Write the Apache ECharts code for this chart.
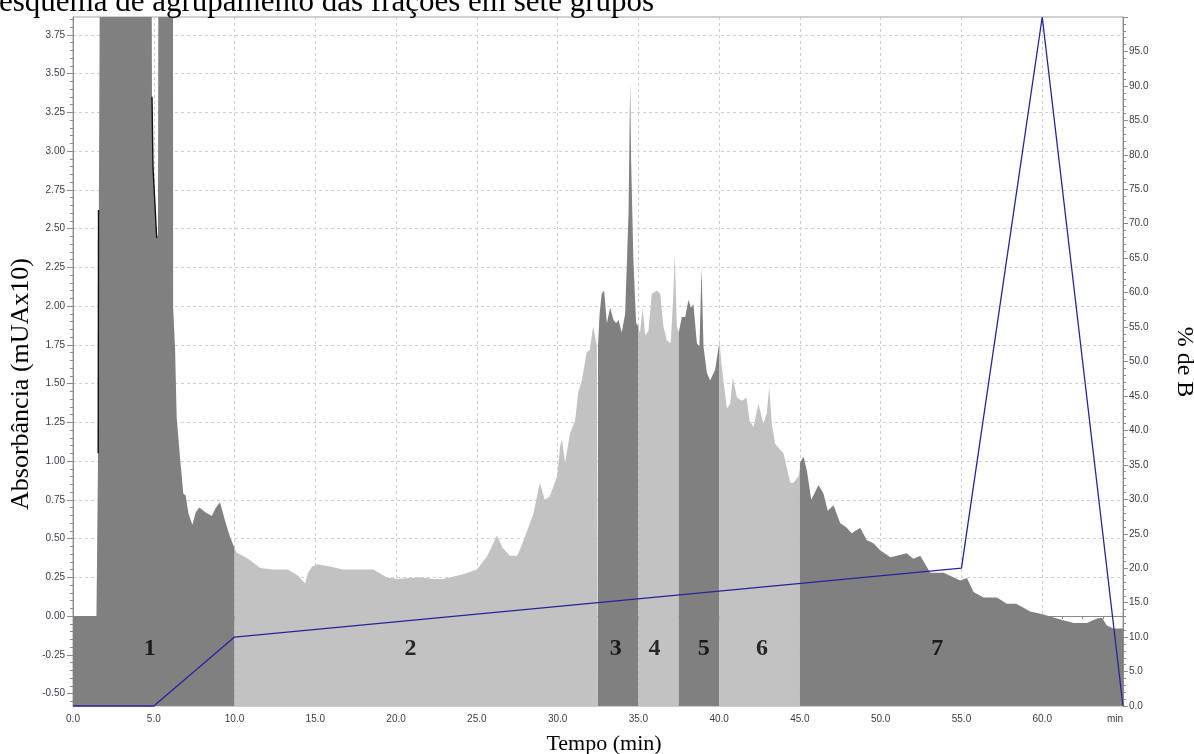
<!DOCTYPE html>
<html>
<head>
<meta charset="utf-8">
<script src="https://cdn.jsdelivr.net/npm/echarts@6/dist/echarts.min.js"></script>
<style>
  html, body { margin: 0; padding: 0; background: #fff; }
  #chart { width: 1194px; height: 754px; }
</style>
</head>
<body>
<div id="chart"></div>
<script>
// Chromatogram (absorbance vs. time) split into seven collected fractions,
// plus the solvent gradient (% B) on the right axis.

// Fraction boundaries (min) and fill colours
const limitesFracoes = [0, 10, 32.5, 35, 37.5, 40, 45, 65];
const coresFracoes = ['#808080', '#c2c2c2', '#808080', '#c2c2c2', '#808080', '#c2c2c2', '#808080'];

// Trace of each fraction: [tempo (min), absorbância]; 4.6 = detector saturated (above scale)
const fracao1 = [[0, 0.00], [1.45, 0.00], [1.48, 0.28], [1.55, 1.05], [1.60, 2.62], [1.68, 4.6],
  [4.86, 4.6], [4.89, 3.35], [4.95, 2.9], [5.10, 2.6], [5.18, 2.44], [5.26, 2.46], [5.29, 4.6],
  [6.19, 4.6], [6.20, 1.99], [6.31, 1.99], [6.32, 1.72], [6.42, 1.28], [6.62, 1.03], [6.83, 0.79],
  [6.97, 0.78], [7.15, 0.66], [7.39, 0.59], [7.6, 0.67], [7.82, 0.70], [8.2, 0.67], [8.59, 0.645],
  [8.85, 0.70], [9.10, 0.735], [9.4, 0.62], [9.72, 0.51], [10.0, 0.44]];
const fracao2 = [[10.0, 0.44], [10.13, 0.41], [10.84, 0.37], [11.58, 0.31], [12.38, 0.30], [13.31, 0.30],
  [13.93, 0.26], [14.37, 0.21], [14.55, 0.28], [14.8, 0.32], [15.17, 0.335], [15.9, 0.32], [16.7, 0.30],
  [18.6, 0.30], [19.4, 0.25], [20.05, 0.24], [21.5, 0.25], [22.3, 0.24], [22.9, 0.24], [24.15, 0.27],
  [25.0, 0.30], [25.6, 0.38], [26.25, 0.52], [26.6, 0.44], [27.05, 0.39], [27.5, 0.39], [27.9, 0.49],
  [28.5, 0.66], [28.9, 0.86], [29.2, 0.75], [29.5, 0.77], [29.97, 0.90], [30.16, 1.10], [30.27, 1.14],
  [30.46, 0.99], [30.77, 1.18], [31.08, 1.26], [31.27, 1.44], [31.5, 1.52], [31.8, 1.70], [32.0, 1.72],
  [32.2, 1.87], [32.43, 1.74], [32.5, 1.74]];
const fracao3 = [[32.5, 1.74], [32.6, 1.95], [32.73, 2.08], [32.88, 2.10], [33.05, 1.89], [33.25, 1.99],
  [33.46, 1.91], [33.62, 1.89], [33.77, 1.91], [33.97, 1.83], [34.18, 1.95], [34.39, 2.60], [34.49, 3.44],
  [34.55, 2.94], [34.69, 2.30], [34.86, 1.89], [35.0, 1.87]];
const fracao4 = [[35.0, 1.85], [35.1, 1.83], [35.27, 1.99], [35.42, 1.81], [35.62, 1.84], [35.83, 2.08],
  [36.14, 2.10], [36.35, 2.08], [36.55, 1.87], [36.76, 1.78], [37.0, 1.76], [37.17, 2.08], [37.25, 2.34],
  [37.38, 1.87], [37.5, 1.83]];
const fracao5 = [[37.5, 1.83], [37.69, 1.93], [37.9, 1.93], [38.1, 2.04], [38.25, 1.99], [38.41, 2.01],
  [38.62, 1.76], [38.78, 1.74], [38.91, 2.25], [39.03, 1.74], [39.24, 1.57], [39.44, 1.52], [39.75, 1.59],
  [40.0, 1.76]];
const fracao6 = [[40.0, 1.80], [40.16, 1.61], [40.48, 1.34], [40.68, 1.37], [40.85, 1.54], [41.1, 1.41],
  [41.4, 1.39], [41.7, 1.41], [41.88, 1.26], [42.13, 1.22], [42.43, 1.37], [42.74, 1.24], [42.95, 1.31],
  [43.1, 1.48], [43.26, 1.24], [43.47, 1.11], [43.98, 1.05], [44.4, 0.86], [44.6, 0.86], [44.91, 0.90],
  [45.0, 0.95]];
const fracao7 = [[45.0, 0.99], [45.22, 1.03], [45.43, 0.94], [45.7, 0.75], [46.15, 0.845], [46.46, 0.79],
  [46.72, 0.68], [47.08, 0.715], [47.49, 0.60], [47.9, 0.57], [48.2, 0.535], [48.73, 0.57], [49.14, 0.49],
  [49.55, 0.47], [49.97, 0.425], [50.6, 0.38], [51.0, 0.39], [51.6, 0.405], [52.03, 0.37], [52.45, 0.39],
  [53.07, 0.28], [53.9, 0.28], [54.5, 0.25], [54.92, 0.23], [55.34, 0.245], [55.75, 0.155], [56.37, 0.12],
  [57.2, 0.12], [57.8, 0.08], [58.4, 0.08], [59.26, 0.03], [60.08, 0.01], [60.9, -0.015], [61.94, -0.045],
  [62.77, -0.045], [63.4, -0.015], [63.7, -0.01], [64.0, -0.06], [64.4, -0.08], [65.0, -0.08]];
const fracoes = [fracao1, fracao2, fracao3, fracao4, fracao5, fracao6, fracao7];

// Dark edges of the saturated first peak
const bordaSubida = [[1.56, 1.05], [1.58, 2.62]];
const bordaVale = [[4.89, 3.35], [4.95, 2.9], [5.10, 2.6], [5.18, 2.44]];

// Solvent gradient
const gradienteTempo = [0, 5, 10, 55, 60, 65];
const gradienteB = [0, 0, 10, 20, 100, 0];

// Fraction numbers and their placement
const rotulosFracoes = ['1', '2', '3', '4', '5', '6', '7'];
const rotulosTempo = [4.75, 20.9, 33.6, 36.0, 39.05, 42.65, 53.5];
const rotulosNivel = -0.21;

// Axis tick values
const ticksAbs = [-0.5, -0.25, 0, 0.25, 0.5, 0.75, 1.0, 1.25, 1.5, 1.75, 2.0, 2.25, 2.5, 2.75, 3.0, 3.25, 3.5, 3.75];
const absMin = -0.58, absMax = 3.865;

const menores = [];
for (let i = 0; i < ticksAbs.length; i++) {
  for (let k = 1; k < 5; k++) {
    const v = +(ticksAbs[i] + k * 0.05).toFixed(2);
    if (v < absMax) menores.push(v);
  }
}
for (let k = 1; k < 2; k++) menores.push(+(-0.5 - k * 0.05).toFixed(2));

const corTexto = '#3a3a48';
const corEixo = '#8a8a8a';

const series = fracoes.map((f, i) => ({
  type: 'line',
  data: f,
  xAxisIndex: 0,
  yAxisIndex: 0,
  symbol: 'none',
  lineStyle: { width: 0, opacity: 0 },
  areaStyle: { color: coresFracoes[i], opacity: 1, origin: 'start' },
  clip: true,
  silent: true,
  z: 2
}));

[bordaSubida, bordaVale].forEach(b => series.push({
  type: 'line', data: b, yAxisIndex: 0, symbol: 'none',
  lineStyle: { color: '#111', width: 1.4 }, silent: true, z: 3
}));

series.push({
  type: 'line',
  data: gradienteTempo.map((t, i) => [t, gradienteB[i]]),
  yAxisIndex: 2,
  symbol: 'none',
  lineStyle: { color: '#25259a', width: 1.3 },
  silent: true,
  clip: false,
  z: 4
});

series.push({
  type: 'scatter',
  data: rotulosTempo.map((t, i) => [t, rotulosNivel, rotulosFracoes[i]]),
  yAxisIndex: 0,
  symbolSize: 0,
  silent: true,
  z: 5,
  label: {
    show: true,
    position: 'inside',
    formatter: p => p.data[2],
    fontFamily: 'Liberation Serif',
    fontWeight: 'bold',
    fontSize: 24,
    color: '#000'
  }
});

const chart = echarts.init(document.getElementById('chart'), null, { renderer: 'canvas' });
chart.setOption({
  animation: false,
  backgroundColor: '#fff',
  title: {
    text: 'esquema de agrupamento das frações em sete grupos',
    left: -1,
    top: -13,
    padding: 0,
    textStyle: { fontFamily: 'Liberation Serif', fontWeight: 'normal', fontSize: 31, color: '#000' }
  },
  grid: {
    left: 73, right: 71, top: 17, bottom: 48,
    show: true, borderColor: '#a0a0a0', borderWidth: 1, backgroundColor: 'transparent'
  },
  xAxis: [{
    type: 'value',
    min: 0, max: 65, interval: 5,
    axisLine: { show: true, lineStyle: { color: corEixo } },
    axisTick: { show: true, length: 5, lineStyle: { color: corEixo } },
    minorTick: { show: true, splitNumber: 4, length: 3, lineStyle: { color: corEixo } },
    splitLine: { show: true, lineStyle: { color: '#cfcfcf', type: [3, 3], width: 1 } },
    axisLabel: {
      color: corTexto, fontFamily: 'Liberation Sans', fontSize: 10, margin: 8,
      formatter: v => (v === 65 ? 'min' : v.toFixed(1)),
      alignMaxLabel: 'right'
    }
  }],
  yAxis: [{
    type: 'value',
    min: absMin, max: absMax,
    position: 'left',
    axisLine: { show: true, lineStyle: { color: corEixo } },
    axisTick: { show: true, length: 6, customValues: ticksAbs, lineStyle: { color: corEixo } },
    splitLine: { show: true, lineStyle: { color: '#cfcfcf', type: [3, 3], width: 1 } },
    axisLabel: {
      customValues: ticksAbs, color: corTexto, fontFamily: 'Liberation Sans', fontSize: 10, margin: 8,
      formatter: v => v.toFixed(2)
    }
  }, {
    type: 'value',
    min: absMin, max: absMax,
    position: 'left', offset: 0,
    axisLine: { show: false },
    axisTick: { show: true, length: 3, customValues: menores, lineStyle: { color: corEixo } },
    splitLine: { show: false },
    axisLabel: { show: false }
  }, {
    type: 'value',
    min: 0, max: 100, interval: 5,
    position: 'right',
    axisLine: { show: true, lineStyle: { color: corEixo } },
    axisTick: { show: true, length: 5, lineStyle: { color: corEixo } },
    minorTick: { show: true, splitNumber: 5, length: 3, lineStyle: { color: corEixo } },
    splitLine: { show: false },
    axisLabel: {
      color: corTexto, fontFamily: 'Liberation Sans', fontSize: 10, margin: 6,
      showMaxLabel: false,
      formatter: v => v.toFixed(1)
    }
  }],
  graphic: [{
    type: 'text', x: 21, y: 384, rotation: Math.PI / 2,
    style: { text: 'Absorbância (mUAx10)', font: '26px "Liberation Serif"', fill: '#000', align: 'center', verticalAlign: 'middle' }
  }, {
    type: 'text', x: 1184, y: 362, rotation: -Math.PI / 2,
    style: { text: '% de B', font: '24px "Liberation Serif"', fill: '#000', align: 'center', verticalAlign: 'middle' }
  }, {
    type: 'text', x: 604, y: 744,
    style: { text: 'Tempo (min)', font: '22px "Liberation Serif"', fill: '#000', align: 'center', verticalAlign: 'middle' }
  }],
  series: series
});
</script>
</body>
</html>
